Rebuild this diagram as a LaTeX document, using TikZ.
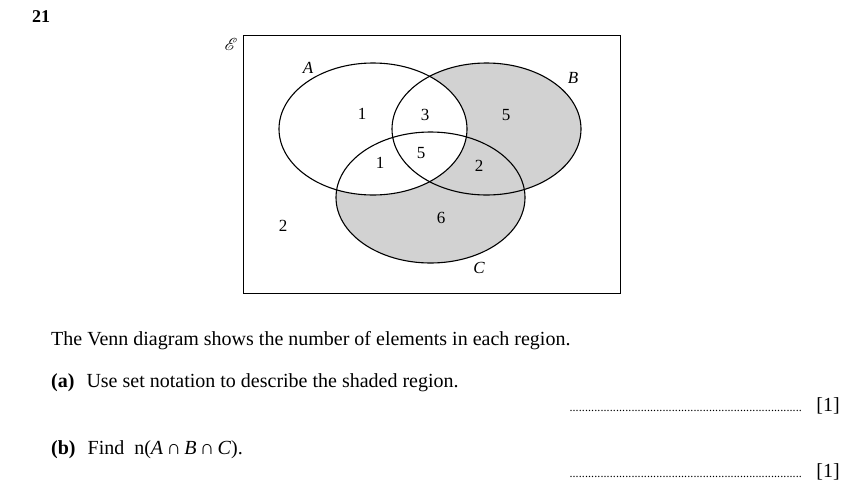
\documentclass[tikz,border=0pt]{standalone}
\usepackage{fontspec}
\setmainfont{Liberation Serif}
\usepackage{mathrsfs}
\begin{document}
\begin{tikzpicture}[x=1pt,y=-1pt,
  lbl/.style={font=\fontsize{17}{20}\selectfont\itshape},
  num/.style={font=\fontsize{17}{20}\selectfont},
  txt/.style={font=\fontsize{20}{24}\selectfont,anchor=west,inner sep=0pt},
  ring/.style={draw=black,line width=1.1pt}]
\useasboundingbox (0,0) rectangle (853,482);
\node[font=\fontsize{18}{20}\selectfont\bfseries] (q) at (41,17) {21};
\node[draw,line width=1pt,minimum width=377pt,minimum height=258pt,anchor=north west,inner sep=0pt] (U) at (243,35) {};
\node[font=\fontsize{18}{20}\selectfont] (E) at (231,44) {$\mathscr{E}$};
\fill[gray!35] (486.5,129) ellipse [x radius=94.5,y radius=66];
\fill[gray!35] (430.5,197.5) ellipse [x radius=94.5,y radius=65.5];
\fill[white] (373,129) ellipse [x radius=94,y radius=66];
\draw[ring] (373,129) ellipse [x radius=94,y radius=66];
\draw[ring] (486.5,129) ellipse [x radius=94.5,y radius=66];
\draw[ring] (430.5,197.5) ellipse [x radius=94.5,y radius=65.5];
\node[lbl] (la) at (308,68) {A};
\node[lbl] (lb) at (573,78) {B};
\node[lbl] (lc) at (479,268) {C};
\node[num] (n1) at (362,114) {1};
\node[num] (n2) at (425,115) {3};
\node[num] (n3) at (506,115) {5};
\node[num] (n4) at (380,163) {1};
\node[num] (n5) at (421,153) {5};
\node[num] (n6) at (479,166) {2};
\node[num] (n7) at (441,218) {6};
\node[num] (n8) at (283,226) {2};
\node[txt] (t1) at (51,341) {The Venn diagram shows the number of elements in each region.};
\node[txt] (t2) at (51,383) {\textbf{(a)}\hspace{12pt}Use set notation to describe the shaded region.};
\node[txt,anchor=east] (d2a) at (840,406) {{\fontsize{12}{14}\selectfont\makebox[235pt]{\leaders\hbox to 3.1pt{\hss.\hss}\hfill}}\hspace{12pt}[1]};
\node[txt] (t3) at (51,450) {\textbf{(b)}\hspace{12pt}Find\hspace{10pt}n(\textit{A}\,∩\,\textit{B}\,∩\,\textit{C}).};
\node[txt,anchor=east] (d2) at (840,472) {{\fontsize{12}{14}\selectfont\makebox[235pt]{\leaders\hbox to 3.1pt{\hss.\hss}\hfill}}\hspace{12pt}[1]};
\end{tikzpicture}
\end{document}
